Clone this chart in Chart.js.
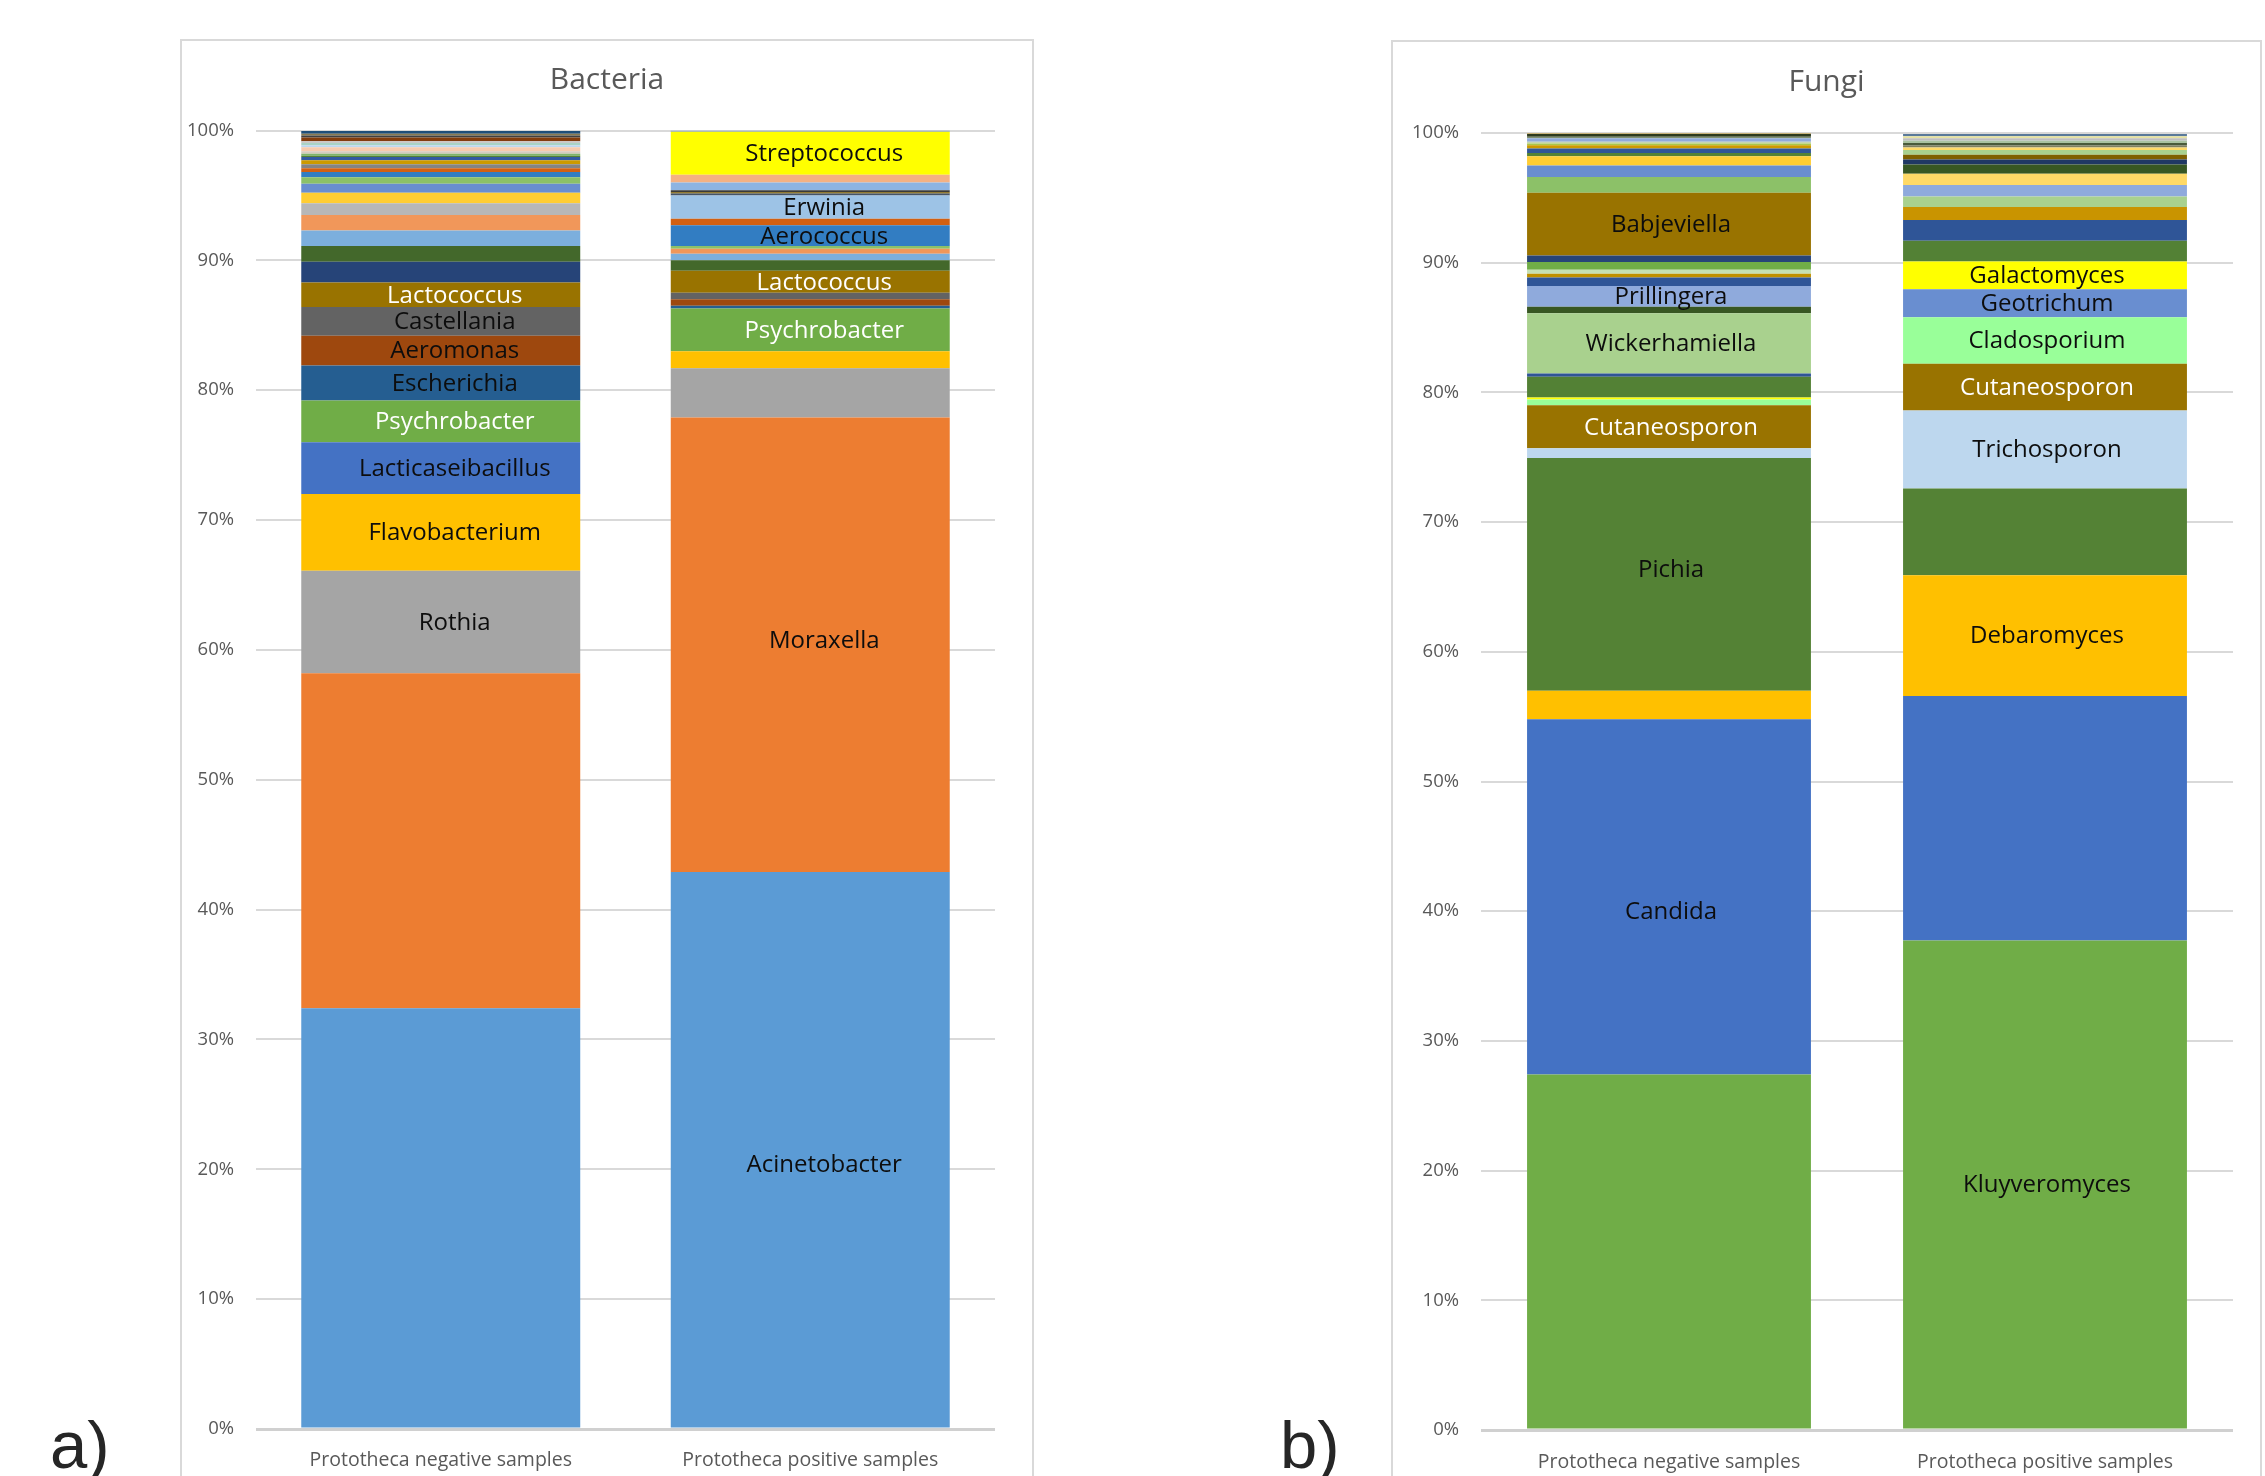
<!DOCTYPE html>
<html>
<head>
<meta charset="utf-8">
<title>Bacteria and Fungi composition</title>
<script src="https://cdn.jsdelivr.net/npm/chart.js@4.4.1/dist/chart.umd.min.js"></script>
<style>
  body { margin: 0; width: 2265px; height: 1476px; background: #fff; overflow: hidden; position: relative; }
  .panel { position: absolute; border: 2px solid #d9d9d9; border-bottom: none; box-sizing: border-box; }
  canvas { position: absolute; }
  .tag { position: absolute; font-family: 'Liberation Sans', Arial, sans-serif; font-size: 67px; line-height: 1; color: #262626; }
</style>
</head>
<body>
<div class="panel" style="left:180px;top:39px;width:854px;height:1437px"></div>
<div class="panel" style="left:1391px;top:40px;width:871px;height:1436px"></div>
<canvas id="bacteria" width="854" height="1437" style="left:180px;top:39px"></canvas>
<canvas id="fungi" width="871" height="1436" style="left:1391px;top:40px"></canvas>
<div class="tag" style="left:50px;top:1411px">a)</div>
<div class="tag" style="left:1280px;top:1411px">b)</div>

<script>
'use strict';

const samples = ['Prototheca negative samples', 'Prototheca positive samples'];
const yTicks = [0, 10, 20, 30, 40, 50, 60, 70, 80, 90, 100];

// Bacteria - series from bottom to top, % of reads ('' = unlabelled minor genus)
const bacteriaNames = [
  'Acinetobacter', 'Moraxella', 'Rothia', 'Flavobacterium', 'Lacticaseibacillus',
  'Psychrobacter', 'Escherichia', 'Aeromonas', 'Castellania', 'Lactococcus',
  '', '', '', '', '', '', '', '', 'Aerococcus', '',
  '', '', '', '', '', '', '', '', '', '', '', '', '', '',
  'Erwinia', '', '', '', '', '', 'Streptococcus', ''
];
const bacteriaNeg = [
  32.4, 25.8, 7.9, 5.9, 4.0,
  3.2, 2.7, 2.3, 2.2, 1.9,
  1.6, 1.2, 1.2, 1.2, 0.9, 0.8, 0.7, 0.5, 0.4, 0.3,
  0.3, 0.3, 0.26, 0.1, 0.15, 0.2, 0.3, 0.15, 0.18, 0.13, 0.3, 0.15, 0.13, 0.22,
  0, 0, 0, 0, 0, 0, 0, 0
];
const bacteriaPos = [
  42.9, 35.0, 3.8, 1.3, 0,
  3.3, 0.2, 0.5, 0.5, 1.7,
  0, 0.8, 0.5, 0.4, 0, 0, 0, 0.2, 1.6, 0.5,
  0, 0, 0, 0, 0, 0, 0, 0, 0, 0, 0, 0, 0, 0,
  1.8, 0.15, 0.1, 0.15, 0.6, 0.6, 3.3, 0.1
];
const bacteriaColors = [
  '#5b9bd5', '#ed7d31', '#a5a5a5', '#ffc000', '#4472c4',
  '#70ad47', '#255e91', '#9e480e', '#636363', '#997300',
  '#264478', '#43682b', '#7cafdd', '#f1975a', '#b7b7b7', '#ffcd33', '#698ed0', '#8cc168', '#327dc2', '#d26012',
  '#848484', '#cc9a00', '#335aa1', '#548235', '#7fb56a', '#d6cbbf', '#f8cbad', '#bdd7ee', '#a9d3c4', '#c9c9c9', '#843c0c', '#404040', '#8a7a50', '#1f4e79',
  '#9dc3e6', '#44546a', '#7f6000', '#3a3a3a', '#8db4e2', '#f4b183', '#ffff00', '#7f9fd5'
];
const bacteriaNegShown = ['Lactococcus', 'Castellania', 'Aeromonas', 'Escherichia', 'Psychrobacter', 'Lacticaseibacillus', 'Flavobacterium', 'Rothia'];
const bacteriaPosShown = ['Streptococcus', 'Erwinia', 'Aerococcus', 'Lactococcus', 'Psychrobacter', 'Moraxella', 'Acinetobacter'];

// Fungi - series from bottom to top
const fungiNames = [
  'Kluyveromyces', 'Candida', 'Debaromyces', 'Pichia', 'Trichosporon',
  'Cutaneosporon', 'Cladosporium', 'Geotrichum', 'Galactomyces', '',
  '', '', 'Wickerhamiella', '', 'Prillingera',
  '', '', '', '', '', 'Babjeviella', '', '', '', '', '', '', '', '', '', '', '', '',
  '', '', '', '', '', '', '', '', '', '', '', ''
];
const fungiNeg = [
  27.4, 27.4, 2.2, 17.95, 0.75,
  3.3, 0.45, 0, 0.15, 1.6,
  0.25, 0, 4.65, 0.5, 1.6,
  0.65, 0.3, 0.3, 0.6, 0.5, 4.85, 1.2, 0.9, 0.7, 0.25, 0.35, 0.25, 0.15, 0.13, 0.26, 0.13, 0.2, 0.08,
  0, 0, 0, 0, 0, 0, 0, 0, 0, 0, 0, 0
];
const fungiPos = [
  37.75, 18.85, 9.3, 6.7, 6.0,
  3.6, 3.6, 2.15, 2.15, 1.6,
  1.6, 1.0, 0.8, 0, 0.9,
  0, 0, 0, 0, 0, 0, 0, 0, 0, 0, 0, 0, 0, 0, 0, 0, 0, 0,
  0.85, 0.72, 0.39, 0.36, 0.36, 0.2, 0.15, 0.2, 0.18, 0.18, 0.15, 0.18
];
const fungiColors = [
  '#70ad47', '#4472c4', '#ffc000', '#548235', '#bdd7ee',
  '#997300', '#99ff99', '#698ed0', '#ffff00', '#538135',
  '#2f5597', '#c99400', '#a9d18e', '#385723', '#8faadc',
  '#2f5597', '#bf9000', '#c5e0b4', '#70ad47', '#264478', '#997300', '#8cc168', '#698ed0', '#ffcd33', '#548235', '#2f5597', '#cc9a00', '#a9c84a', '#c5d6b0', '#8faadc', '#7f8f70', '#2d3a1e', '#c8b27a',
  '#ffd966', '#385723', '#203864', '#7f6000', '#a9d18e', '#ffd966', '#7f8060', '#4a5a3a', '#a9c2a0', '#bfbfbf', '#e6e2a0', '#5a7a9a'
];
const fungiNegShown = ['Babjeviella', 'Prillingera', 'Wickerhamiella', 'Cutaneosporon', 'Pichia', 'Candida'];
const fungiPosShown = ['Galactomyces', 'Geotrichum', 'Cladosporium', 'Cutaneosporon', 'Trichosporon', 'Debaromyces', 'Kluyveromyces'];

const whiteLabels = ['Lactococcus', 'Psychrobacter', 'Cutaneosporon'];
// excel did not put every label dead centre - small vertical nudges (px)
const labelNudge = { '1:Acinetobacter': 14, '1:Moraxella': -5, '0:Candida': 14, '0:Pichia': -5 };

// labels inside the segments, placed from the bar elements
const segmentLabels = {
  id: 'segmentLabels',
  afterDatasetsDraw(chart, args, opts) {
    const ctx = chart.ctx;
    ctx.save();
    ctx.font = '24px "Open Sans"';
    ctx.textAlign = 'center';
    ctx.textBaseline = 'middle';
    chart.data.datasets.forEach((ds, i) => {
      const meta = chart.getDatasetMeta(i);
      meta.data.forEach((bar, j) => {
        if (!ds.label || !opts.shown[j].includes(ds.label)) return;
        const { x, y, base } = bar.getProps(['x', 'y', 'base'], true);
        const dy = labelNudge[`${j}:${ds.label}`] || 0;
        ctx.fillStyle = whiteLabels.includes(ds.label) ? '#ffffff' : '#0d0d0d';
        ctx.fillText(ds.label, x + opts.dx, (y + base) / 2 + 1 + dy);
      });
    });
    ctx.restore();
  }
};

function makeChart(id, title, names, neg, pos, colors, shown, geo) {
  const ctx = document.getElementById(id).getContext('2d');
  return new Chart(ctx, {
    type: 'bar',
    data: {
      labels: samples,
      datasets: names.map((name, i) => ({
        label: name,
        data: [neg[i], pos[i]],
        backgroundColor: colors[i],
        borderWidth: 0,
        barPercentage: 0.755,
        categoryPercentage: 1,
      })),
    },
    options: {
      responsive: false,
      animation: false,
      devicePixelRatio: 1,
      layout: { padding: 0 },
      plugins: {
        legend: { display: false },
        tooltip: { enabled: false },
        title: {
          display: true,
          text: title,
          color: '#595959',
          font: { family: 'Open Sans', size: 30, weight: 'normal' },
          padding: { top: geo.titleTop, bottom: geo.titleBottom },
        },
        segmentLabels: { shown, dx: geo.dx },
      },
      scales: {
        x: {
          stacked: true,
          grid: { display: false },
          border: { display: false },
          ticks: {
            color: '#595959',
            padding: geo.xPad,
            font: { family: 'Open Sans', size: 19.5 },
            maxRotation: 0,
          },
          afterFit: s => { s.height = geo.axisH; },
        },
        y: {
          stacked: true,
          min: 0,
          max: 100,
          afterBuildTicks: s => { s.ticks = yTicks.map(v => ({ value: v })); },
          grid: {
            drawTicks: false,
            tickLength: 0,
            color: c => (c.tick && c.tick.value === 0 ? '#d0d0d0' : '#d9d9d9'),
            lineWidth: c => (c.tick && c.tick.value === 0 ? 3 : 2),
          },
          border: { display: false },
          ticks: {
            color: '#595959',
            padding: 22,
            font: { family: 'Open Sans', size: 18.5 },
            callback: v => `${v}%`,
          },
          afterFit: s => { s.width = geo.axisW; },
        },
        // empty right-hand axis, only keeps the plot clear of the panel edge
        spacer: {
          type: 'linear',
          position: 'right',
          grid: { display: false },
          border: { display: false },
          ticks: { display: false },
          afterFit: s => { s.width = geo.right; },
        },
      },
    },
    plugins: [segmentLabels],
  });
}

makeChart('bacteria', 'Bacteria', bacteriaNames, bacteriaNeg, bacteriaPos, bacteriaColors,
  [bacteriaNegShown, bacteriaPosShown],
  { right: 39, axisW: 76, titleTop: 23.7, titleBottom: 31.8, axisH: 47, xPad: 12, dx: 14 });

makeChart('fungi', 'Fungi', fungiNames, fungiNeg, fungiPos, fungiColors,
  [fungiNegShown, fungiPosShown],
  { right: 29, axisW: 90, titleTop: 24.3, titleBottom: 32.7, axisH: 46, xPad: 13, dx: 2 });
</script>
</body>
</html>
